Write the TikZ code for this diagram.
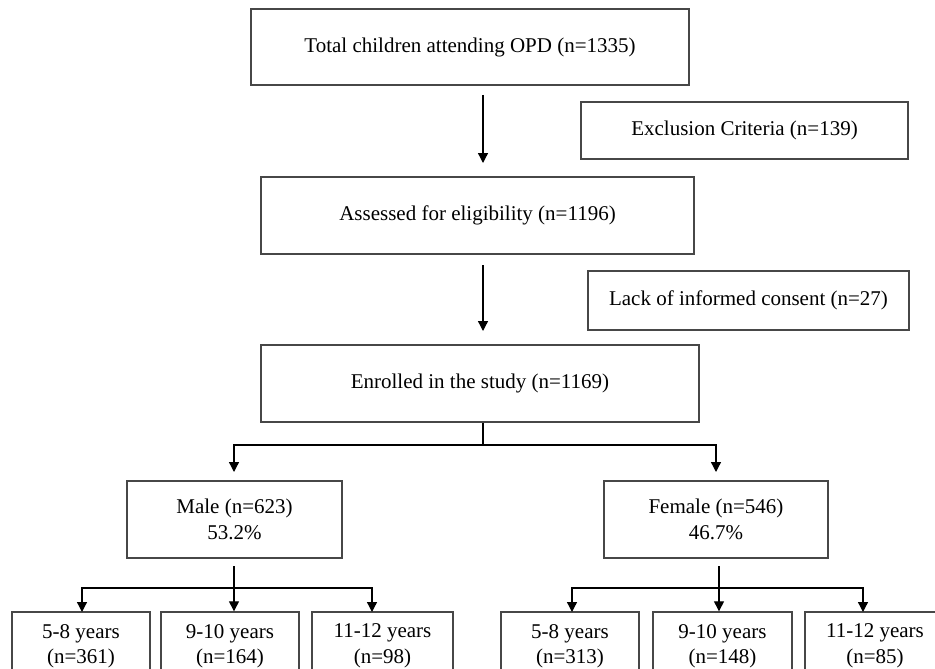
\documentclass[tikz,border=0pt]{standalone}
\usepackage{fontspec}
\setmainfont{Liberation Serif}
\usetikzlibrary{arrows.meta,calc}
\begin{document}
\begin{tikzpicture}[x=1pt,y=-1pt,
  box/.style={draw=black!72, line width=1.4pt, align=center, inner sep=0pt,
              font=\fontsize{21}{25.5}\selectfont},
  ln/.style={draw=black, line width=1.3pt},
  arr/.style={ln, -{Triangle[length=10pt,width=10pt]}}]
\useasboundingbox (0,0) rectangle (935,669);
\clip (0,0) rectangle (935,669);
% main column
\node[box, minimum width=438pt, minimum height=76pt] (total) at (470,47) {Total children attending OPD (n=1335)};
\node[box, minimum width=327pt, minimum height=57pt] (excl) at (744.5,130.5) {Exclusion Criteria (n=139)};
\node[box, minimum width=433pt, minimum height=77pt] (assess) at (477.5,215.5) {Assessed for eligibility (n=1196)};
\node[box, minimum width=321pt, minimum height=59pt] (lack) at (748.5,300.5) {Lack of informed consent (n=27)};
\node[box, minimum width=438pt, minimum height=77pt] (enrol) at (480,383.5) {Enrolled in the study (n=1169)};
% gender
\node[box, minimum width=215pt, minimum height=77pt] (male) at (234.5,519.5) {Male (n=623)\\53.2\%};
\node[box, minimum width=224pt, minimum height=77pt] (female) at (716,519.5) {Female (n=546)\\46.7\%};
% age groups
\node[box, minimum width=138pt, minimum height=68pt] (m1) at (81,646) {5-8 years\\(n=361)};
\node[box, minimum width=138pt, minimum height=68pt] (m2) at (230,646) {9-10 years\\(n=164)};
\node[box, minimum width=141pt, minimum height=68pt] (m3) at (382.5,646) {11-12 years\\(n=98)};
\node[box, minimum width=138pt, minimum height=68pt] (f1) at (570,646) {5-8 years\\(n=313)};
\node[box, minimum width=139pt, minimum height=68pt] (f2) at (722.5,646) {9-10 years\\(n=148)};
\node[box, minimum width=140pt, minimum height=68pt] (f3) at (875,646) {11-12 years\\(n=85)};
% connectors
\coordinate (a1s) at (483,95);
\coordinate (a1e) at (483,163);
\coordinate (a2s) at (483,265);
\coordinate (a2e) at (483,331);
\draw[arr] (a1s) -- (a1e);
\draw[arr] (a2s) -- (a2e);
\coordinate (ej) at (483,445);
\coordinate (mt) at (234,472);
\coordinate (ft) at (716,472);
\draw[ln] (enrol.south -| ej) -- (ej);
\draw[arr] (ej) -| (mt);
\draw[arr] (ej) -| (ft);
% male split
\coordinate (ms) at (234,566);
\coordinate (mj) at (234,588);
\draw[arr] (ms) -- (mj) -- (mj |- m2.north);
\draw[arr] (mj) -| (82,612) coordinate (m1t);
\draw[arr] (mj) -| (372,612) coordinate (m3t);
% female split
\coordinate (fs) at (719,566);
\coordinate (fj) at (719,588);
\draw[arr] (fs) -- (fj) -- (fj |- f2.north);
\draw[arr] (fj) -| (572,612) coordinate (f1t);
\draw[arr] (fj) -| (863,612) coordinate (f3t);
\end{tikzpicture}
\end{document}
